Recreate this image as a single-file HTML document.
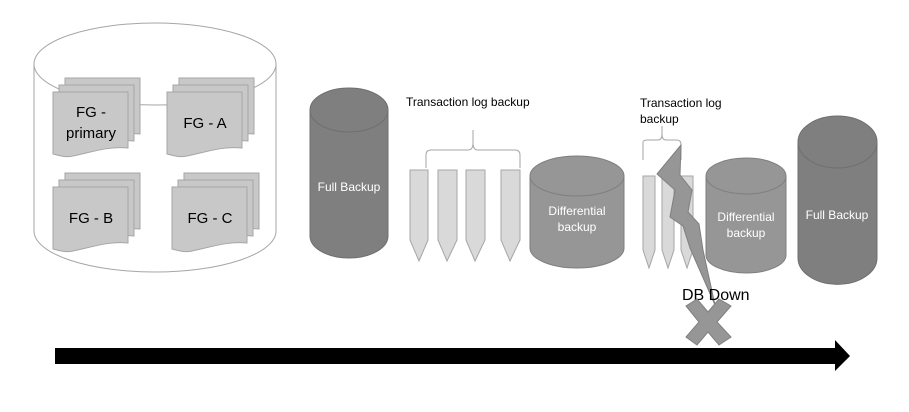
<!DOCTYPE html>
<html><head><meta charset="utf-8"><style>
html,body{margin:0;padding:0;background:#fff;}
svg{display:block;font-family:"Liberation Sans",Calibri,sans-serif;}
</style></head><body>
<svg width="909" height="412" viewBox="0 0 909 412">
<path d="M34,64 L34,231 A121,41 0 0 0 276,231 L276,64" fill="#fff" stroke="#a6a6a6" stroke-width="1"/>
<ellipse cx="155" cy="64" rx="121" ry="41" fill="#fff" stroke="#a6a6a6"/>
<defs>
<g id="doc">
<path d="M0,0 H75 V56 C55,54 40,60 20,64 C12,66 5,63 0,62 Z" fill="#c8c8c8" stroke="#a6a6a6"/>
</g>
<g id="stack">
<use href="#doc" x="12" y="-14"/>
<use href="#doc" x="6" y="-7"/>
<use href="#doc" x="0" y="0"/>
</g>
</defs>
<use href="#stack" x="53" y="92"/>
<use href="#stack" x="167" y="92"/>
<use href="#stack" x="53" y="187"/>
<use href="#stack" x="172" y="187"/>
<g font-size="15" fill="#000" text-anchor="middle">
<text x="91" y="117">FG -</text><text x="91" y="138">primary</text>
<text x="205" y="128">FG - A</text>
<text x="91" y="223">FG - B</text>
<text x="210" y="223">FG - C</text>
</g>
<path d="M310,110 L310,236 A39,22 0 0 0 388,236 L388,110" fill="#7f7f7f" stroke="#6f6f6f"/>
<ellipse cx="349" cy="110" rx="39" ry="22" fill="#7f7f7f" stroke="#6f6f6f"/>
<text x="349" y="191" font-size="12" fill="#fff" text-anchor="middle">Full Backup</text>
<text x="406" y="106" font-size="12">Transaction log backup</text>
<path d="M426,168 V155 Q426,150 431,150 H468 Q473,150 473,143 V130 M473,143 Q473,150 478,150 H515 Q520,150 520,155 V168" fill="none" stroke="#a6a6a6"/>
<g fill="#d9d9d9" stroke="#a6a6a6">
<path d="M410,170 H428 V240 L419,261 L410,240 Z"/>
<path d="M438,170 H457 V240 L447,261 L438,240 Z"/>
<path d="M466,170 H485 V240 L475,261 L466,240 Z"/>
<path d="M501,170 H520 V240 L510,261 L501,240 Z"/>
</g>
<path d="M530,176 L530,248 A47,20 0 0 0 624,248 L624,176" fill="#969696" stroke="#7f7f7f"/>
<ellipse cx="577" cy="176" rx="47" ry="20" fill="#969696" stroke="#7f7f7f"/>
<text x="577" y="215" font-size="12" fill="#fff" text-anchor="middle">Differential</text>
<text x="577" y="231" font-size="12" fill="#fff" text-anchor="middle">backup</text>
<text x="640" y="107" font-size="12">Transaction log</text>
<text x="640" y="123" font-size="12">backup</text>
<path d="M643,160 V142 Q643,140 648,140 H658 Q662,140 662,134 V126 M662,134 Q662,140 666,140 H677 Q681,140 681,145 V160" fill="none" stroke="#a6a6a6"/>
<g fill="#d9d9d9" stroke="#a6a6a6">
<path d="M643,176 H655 V250 L649,268 L643,250 Z"/>
<path d="M662,176 H674 V250 L668,268 L662,250 Z"/>
<path d="M681,176 H693 V250 L687,268 L681,250 Z"/>
</g>
<path d="M706,176 L706,255 A40,18 0 0 0 786,255 L786,176" fill="#969696" stroke="#7f7f7f"/>
<ellipse cx="746" cy="176" rx="40" ry="18" fill="#969696" stroke="#7f7f7f"/>
<text x="746" y="221" font-size="12" fill="#fff" text-anchor="middle">Differential</text>
<text x="746" y="237" font-size="12" fill="#fff" text-anchor="middle">backup</text>
<path d="M798,142 L798,258 A39,26 0 0 0 877,258 L877,142" fill="#7f7f7f" stroke="#6f6f6f"/>
<ellipse cx="837.5" cy="142" rx="39.5" ry="26" fill="#7f7f7f" stroke="#6f6f6f"/>
<text x="837" y="219" font-size="12" fill="#fff" text-anchor="middle">Full Backup</text>
<path d="M681,145 L657,174 L675,190 L670,217 L683,226 L690,248 L715,305 L703,250 L699,224 L688,212 L692,190 L680,175 Z" fill="#969696" stroke="#7f7f7f"/>
<text x="682" y="300" font-size="16">DB Down</text>
<path d="M686,306 L697,299 L708,312 L719,299 L731,306 L717,322 L731,337 L719,345 L708,332 L697,345 L686,337 L699,322 Z" fill="#969696" stroke="#7f7f7f"/>
<path d="M55,348 H835 V340 L850,356 L835,371 V364 H55 Z" fill="#000"/>
</svg>
</body></html>
